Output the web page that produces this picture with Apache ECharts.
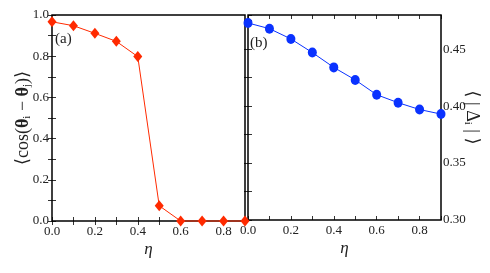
<!DOCTYPE html>
<html><head><meta charset="utf-8">
<script src="https://cdn.jsdelivr.net/npm/echarts@6/dist/echarts.min.js"></script>
<style>html,body{margin:0;padding:0;background:#fff}#c{width:490px;height:273px}</style>
</head><body><div id="c"></div>
<script>
const etaValues = [0.0,0.1,0.2,0.3,0.4,0.5,0.6,0.7,0.8,0.9];
const cosValues = [0.967,0.948,0.911,0.872,0.798,0.074,0.0,0.0,0.0,0.0];
const deltaValues = [0.473,0.468,0.459,0.447,0.434,0.423,0.410,0.403,0.397,0.393];
const xTickLabels = ['0.0','0.2','0.4','0.6','0.8'];

const F = 'Liberation Serif, DejaVu Serif, serif';
const pairs = (xs, ys) => xs.map((x, i) => [x, ys[i]]);
const fmt1 = v => { const k = Math.round(v*10); return k % 2 === 0 ? (k/10).toFixed(1) : ''; };
const fmt2 = v => { const k = Math.round(v*1000); return k % 50 === 0 ? (k/1000).toFixed(2) : ''; };

const richName = {
  a:{fontFamily:F, fontSize:18, color:'#222', lineHeight:24, verticalAlign:'middle'},
  b:{fontFamily:F, fontSize:18, fontWeight:'bold', color:'#222', lineHeight:24, verticalAlign:'middle'},
  n:{fontFamily:F, fontSize:18, color:'#222', lineHeight:24, verticalAlign:'middle'},
  s:{fontFamily:F, fontSize:11, color:'#222', lineHeight:24, verticalAlign:'bottom', padding:[0,0,2,0]}
};

function xAx(gi, pos, show) {
  return {type:'value', gridIndex:gi, position:pos, min:0, max:0.9, interval:0.1,
    axisLine:{show:false}, splitLine:{show:false},
    axisTick:{show:true, inside:true, length:4, lineStyle:{color:'#000', width:0.8}},
    axisLabel:{show:show, inside:false, margin:4, color:'#222', fontFamily:F, fontSize:13, formatter:fmt1},
    name: show ? 'η' : '', nameLocation:'middle', nameGap:16, nameMoveOverlap:false,
    nameTextStyle:{fontFamily:F, fontStyle:'italic', fontSize:17, color:'#222', verticalAlign:'top', padding:[4,0,0,0]}};
}
const option = {
  animation:false,
  grid:[
    {left:52, top:15, width:193, height:206, show:true, borderColor:'#000', borderWidth:1.5, backgroundColor:'transparent'},
    {left:248, top:15, width:193, height:205, show:true, borderColor:'#000', borderWidth:1.5, backgroundColor:'transparent'}
  ],
  xAxis:[xAx(0,'bottom',true), xAx(0,'top',false), xAx(1,'bottom',true), xAx(1,'top',false)],
  yAxis:[
    {type:'value', gridIndex:0, position:'left', min:0, max:1, interval:0.1,
     axisLine:{show:false}, splitLine:{show:false},
     axisTick:{show:true, inside:true, length:4, lineStyle:{color:'#000', width:0.8}},
     axisLabel:{margin:3, color:'#222', fontFamily:F, fontSize:13, formatter:fmt1},
     name:'{a|⟨cos(}{b|θ}{s|i}{a| − }{b|θ}{s|j}{a|)⟩}', nameLocation:'middle', nameGap:17, nameRotate:90,
     nameMoveOverlap:false,
     nameTextStyle:{fontFamily:F, fontSize:18, color:'#222', rich:richName}},
    {type:'value', gridIndex:0, position:'right', min:0, max:1, interval:0.1,
     axisLine:{show:false}, splitLine:{show:false},
     axisTick:{show:true, inside:true, length:4, lineStyle:{color:'#000', width:0.8}},
     axisLabel:{show:false}},
    {type:'value', gridIndex:1, position:'right', min:0.30, max:0.48, interval:0.025,
     axisLine:{show:false}, splitLine:{show:false},
     axisTick:{show:true, inside:true, length:4, lineStyle:{color:'#000', width:0.8}},
     axisLabel:{margin:2, color:'#222', fontFamily:F, fontSize:13, formatter:fmt2, showMaxLabel:false},
     name:'{a|⟨ | }{n|Δ}{s|i}{a| | ⟩}', nameLocation:'middle', nameGap:19, nameRotate:-90,
     nameMoveOverlap:false,
     nameTextStyle:{fontFamily:F, fontSize:18, color:'#222', rich:richName}},
    {type:'value', gridIndex:1, position:'left', min:0.30, max:0.48, interval:0.025,
     axisLine:{show:false}, splitLine:{show:false},
     axisTick:{show:true, inside:true, length:4, lineStyle:{color:'#000', width:0.8}},
     axisLabel:{show:false}}
  ],
  series:[
    {type:'line', xAxisIndex:0, yAxisIndex:0, data:pairs(etaValues, cosValues), clip:false,
     symbol:'diamond', symbolSize:[9,11], itemStyle:{color:'#ff2a00'}, lineStyle:{color:'#ff2a00', width:1}},
    {type:'line', xAxisIndex:2, yAxisIndex:2, data:pairs(etaValues, deltaValues), clip:false,
     symbol:'circle', symbolSize:[9,10], itemStyle:{color:'#0a32ff'}, lineStyle:{color:'#0a32ff', width:1}}
  ],
  graphic:[
    {type:'text', left:55, top:32, style:{text:'(a)', font:'15px '+F, fill:'#222'}},
    {type:'text', left:250, top:36, style:{text:'(b)', font:'15px '+F, fill:'#222'}}
  ]
};
const chart = echarts.init(document.getElementById('c'), null, {renderer:'canvas'});
chart.setOption(option);
</script></body></html>
